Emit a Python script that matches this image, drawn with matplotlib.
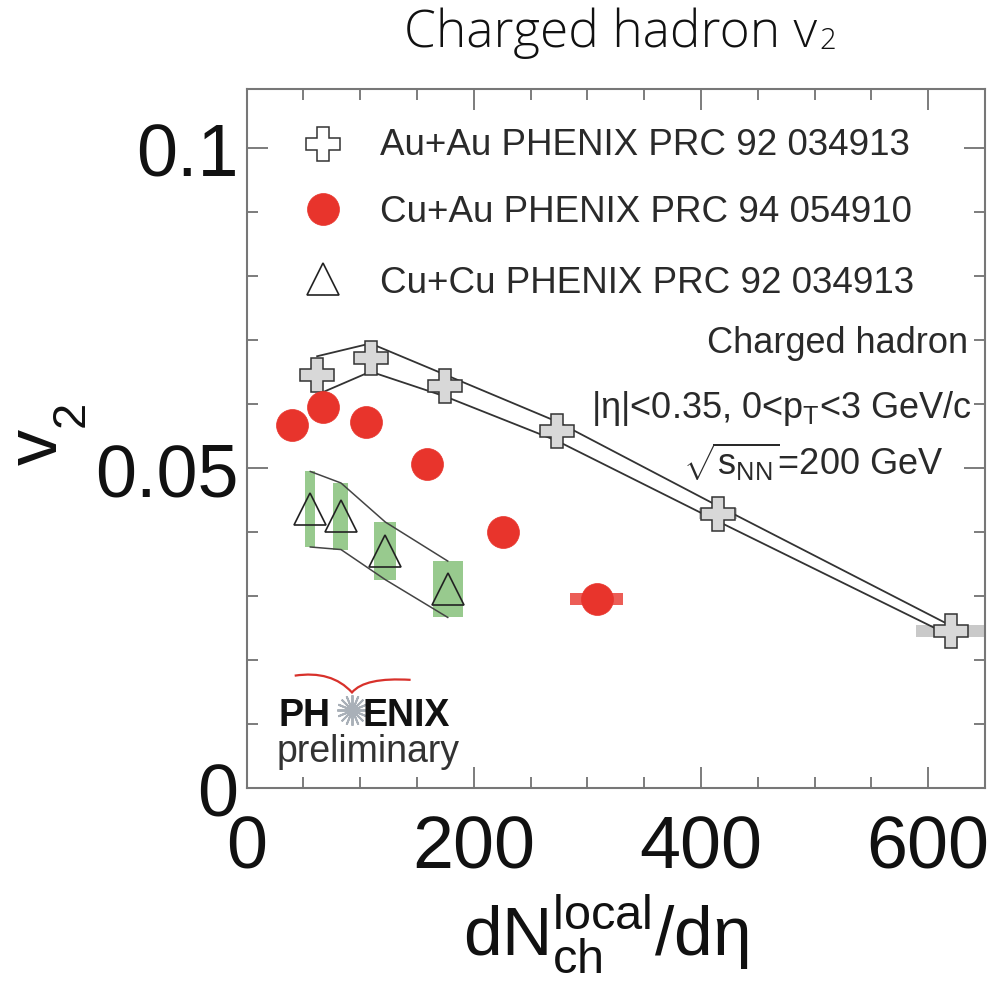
import matplotlib
matplotlib.use('Agg')
import matplotlib.pyplot as plt
from matplotlib.patches import Rectangle, PathPatch
from matplotlib.path import Path
from matplotlib.ticker import MultipleLocator, FixedLocator

plt.rcParams['font.family'] = ['Liberation Sans', 'DejaVu Sans']
plt.rcParams['mathtext.fontset'] = 'custom'
plt.rcParams['mathtext.rm'] = 'Liberation Sans'
plt.rcParams['mathtext.it'] = 'Liberation Sans:italic'
plt.rcParams['mathtext.bf'] = 'Liberation Sans:bold'

# ---------------- data ----------------
auau_x = [62, 109, 175, 273, 415, 620]
auau_y = [0.0645, 0.0673, 0.0629, 0.0558, 0.0429, 0.0246]
auau_sys = [0.0030, 0.0022, 0.0017, 0.0015, 0.0012, 0.0008]
auau_xerr = [4, 6, 8, 12, 17, 31]
auau_yerr_box = [0.0009, 0.0009, 0.0009, 0.0009, 0.0009, 0.0009]

cuau_x = [40, 67, 105, 158.5, 226, 308]
cuau_y = [0.0568, 0.0595, 0.0573, 0.0506, 0.0400, 0.0296]
cuau_xerr = [3, 4, 6, 9, 13, 23]
cuau_yerr_box = [0.0009, 0.0009, 0.0009, 0.0009, 0.0009, 0.0009]

cucu_x = [56, 83, 122, 177]
cucu_y = [0.0436, 0.0425, 0.0371, 0.0311]
cucu_sys = [0.0059, 0.0052, 0.0045, 0.0044]
cucu_xerr = [4.4, 6.6, 9.7, 13.2]

legend_labels = ['Au+Au PHENIX PRC 92 034913',
                 'Cu+Au PHENIX PRC 94 054910',
                 'Cu+Cu PHENIX PRC 92 034913']
x_ticks = [0, 200, 400, 600]
x_ticklabels = ['0', '200', '400', '600']
y_ticks = [0, 0.05, 0.1]
y_ticklabels = ['0', '0.05', '0.1']

RED = '#e8342c'
GREEN = '#98ca8e'
GRAY_BOX = '#c9c9c9'

fig = plt.figure(figsize=(9.94, 9.87), dpi=100)
ax = fig.add_axes([246.7/994, 1-789.3/987, (985-246.7)/994, (789.3-89.7)/987])
ax.set_xlim(0, 650)
ax.set_ylim(0, 0.1093)

# Au+Au gray boxes
for x, y, dx, dy in zip(auau_x, auau_y, auau_xerr, auau_yerr_box):
    ax.add_patch(Rectangle((x-dx, y-dy), 2*dx, 2*dy, facecolor=GRAY_BOX,
                           edgecolor='none', zorder=1, clip_on=True))
# Cu+Au red boxes
for x, y, dx, dy in zip(cuau_x, cuau_y, cuau_xerr, cuau_yerr_box):
    ax.add_patch(Rectangle((x-dx, y-dy), 2*dx, 2*dy, facecolor=RED, alpha=0.8,
                           edgecolor='none', zorder=1))
# Cu+Cu green boxes
for x, y, dx, dy in zip(cucu_x, cucu_y, cucu_xerr, cucu_sys):
    ax.add_patch(Rectangle((x-dx, y-dy), 2*dx, 2*dy, facecolor=GREEN,
                           edgecolor='none', zorder=1))

# systematic band lines
ax.plot(auau_x, [y+s for y, s in zip(auau_y, auau_sys)], color='#333333', lw=1.3, zorder=2)
ax.plot(auau_x, [y-s for y, s in zip(auau_y, auau_sys)], color='#333333', lw=1.3, zorder=2)
ax.plot(cucu_x, [y+s for y, s in zip(cucu_y, cucu_sys)], color='#444444', lw=1.1, zorder=2)
ax.plot(cucu_x, [y-s for y, s in zip(cucu_y, cucu_sys)], color='#444444', lw=1.1, zorder=2)

# markers
ax.plot(auau_x, auau_y, linestyle='none', marker='P', ms=24, mfc='#d8d8d8',
        mec='#333333', mew=1.1, zorder=4)
ax.plot(cuau_x, cuau_y, linestyle='none', marker='o', ms=23, mfc=RED,
        mec=RED, mew=0.5, zorder=4)
ax.plot(cucu_x, cucu_y, linestyle='none', marker='^', ms=23.5, mfc='none',
        mec='#222222', mew=1.2, zorder=4)

# axes styling
for sp in ax.spines.values():
    sp.set_color('#777777')
    sp.set_linewidth(1.5)
ax.xaxis.set_major_locator(FixedLocator(x_ticks))
ax.set_xticklabels(x_ticklabels)
ax.xaxis.set_minor_locator(MultipleLocator(50))
ax.yaxis.set_major_locator(FixedLocator(y_ticks))
ax.set_yticklabels(y_ticklabels)
ax.yaxis.set_minor_locator(MultipleLocator(0.01))
ax.tick_params(which='both', direction='in', top=True, right=True,
               color='#666666', width=1.2)
ax.tick_params(which='major', length=15)
ax.tick_params(which='minor', length=8)
ax.tick_params(axis='x', which='major', labelsize=53, pad=18, labelcolor='#111111')
ax.tick_params(axis='y', which='major', labelsize=53, pad=6, labelcolor='#111111')

# legend (manual)
leg_mk = [dict(marker='P', ms=24, mfc='white', mec='#333333', mew=1.1),
          dict(marker='o', ms=23, mfc=RED, mec=RED, mew=0.5),
          dict(marker='^', ms=23.5, mfc='none', mec='#222222', mew=1.2)]
leg_my = [0.921, 0.828, 0.728]
leg_ty = [0.9066, 0.8113, 0.7094]
for lab, mk, my, ty in zip(legend_labels, leg_mk, leg_my, leg_ty):
    ax.plot([0.104], [my], transform=ax.transAxes, linestyle='none', clip_on=False, **mk)
    ax.text(0.1806, ty, lab, transform=ax.transAxes, fontsize=26.5,
            color='#2a2a2a', ha='left', va='baseline')

# info text
ax.text(0.977, 0.6236, 'Charged hadron', transform=ax.transAxes, fontsize=26,
        color='#2a2a2a', ha='right', va='baseline')
ax.text(0.9825, 0.5307, r'|η|<0.35, 0<p$_\mathrm{T}$<3 GeV/c', transform=ax.transAxes,
        fontsize=26, color='#2a2a2a', ha='right', va='baseline')
ax.text(0.9435, 0.4493, r'$\sqrt{\mathrm{s}_{\mathrm{NN}}}$=200 GeV', transform=ax.transAxes,
        fontsize=26, color='#2a2a2a', ha='right', va='baseline')

# PHENIX logo
ax.text(0.0424, 0.091, 'PH', transform=ax.transAxes, fontsize=27, weight='bold',
        color='#111111', ha='left', va='baseline')
ax.text(0.1575, 0.091, 'ENIX', transform=ax.transAxes, fontsize=27, weight='bold',
        color='#111111', ha='left', va='baseline')
ax.plot([0.1422], [0.112], transform=ax.transAxes, marker=(16, 2, 0), ms=22,
        mec='#a9b0b8', mew=1.4, linestyle='none')
ax.plot([0.1422], [0.112], transform=ax.transAxes, marker='o', ms=6,
        mfc='#a9b0b8', mec='#a9b0b8', linestyle='none')
ax.text(0.0406, 0.039, 'preliminary', transform=ax.transAxes, fontsize=27,
        color='#333333', ha='left', va='baseline')
verts = [(0.065, 0.161), (0.115, 0.169), (0.1426, 0.137),
         (0.160, 0.159), (0.222, 0.155)]
codes = [Path.MOVETO, Path.CURVE3, Path.CURVE3, Path.CURVE3, Path.CURVE3]
ax.add_patch(PathPatch(Path(verts, codes), transform=ax.transAxes, facecolor='none',
                       edgecolor='#d8312b', lw=1.6))

# axis labels
ax.text(-0.283, 0.489, 'v', transform=ax.transAxes, fontsize=52, rotation=90,
        ha='center', va='center', color='#111111')
ax.text(-0.2366, 0.537, '2', transform=ax.transAxes, fontsize=34, rotation=90,
        ha='center', va='center', color='#111111')
fig.text(606/994, 1-955/987, r'dN$_{\mathrm{ch}}^{\mathrm{local}}$/dη', fontsize=50,
         ha='center', va='baseline', color='#111111')

# title (centred as a whole at x ~ 620 px)
tfam = ['Open Sans', 'DejaVu Sans']
t = fig.text(0, 1-46.7/987, 'Charged hadron v', family=tfam,
             weight='light', fontsize=37, ha='left', va='baseline', color='#111111')
s = fig.text(0, 1-49/987, '2', family=tfam, weight='light',
             fontsize=21, ha='left', va='baseline', color='#111111')
fig.canvas.draw()
r = fig.canvas.get_renderer()
w1 = t.get_window_extent(renderer=r).width
w2 = s.get_window_extent(renderer=r).width
x0 = 620 - (w1 + 3 + w2) / 2
t.set_x(x0 / 994)
s.set_x((x0 + w1 + 3) / 994)

fig.savefig('out.png', dpi=100)
